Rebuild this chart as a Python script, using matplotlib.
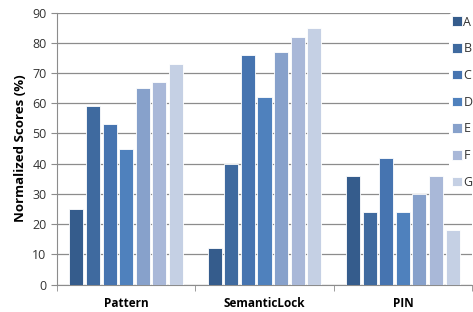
import numpy as np
import matplotlib
matplotlib.use("Agg")
import matplotlib.pyplot as plt

plt.rcParams["font.family"] = ["Open Sans", "DejaVu Sans"]

categories = ["Pattern", "SemanticLock", "PIN"]
series = ["A", "B", "C", "D", "E", "F", "G"]
A = [25, 12, 36]
B = [59, 40, 24]
C = [53, 76, 42]
D = [45, 62, 24]
E = [65, 77, 30]
F = [67, 82, 36]
G = [73, 85, 18]
values = [A, B, C, D, E, F, G]
colors = ["#355C8C", "#3F6A9F", "#4674B0", "#4F81BD", "#87A1CB", "#A9B8D8", "#C5D0E4"]

fig = plt.figure(figsize=(4.73, 3.12), dpi=100)
ax = fig.add_axes([57 / 473, 27.5 / 312, 415 / 473, 272 / 312])

x = np.arange(len(categories))
slot = 0.12
width = 0.102
for i, (name, vals) in enumerate(zip(series, values)):
    offs = (i - 3) * slot
    ax.bar(x + offs, vals, width, color=colors[i], edgecolor="white", linewidth=0.6,
           label=name, zorder=3)

grid_c = "#8C8C8C"
ax.set_xlim(-0.5, 2.5)
ax.set_ylim(0, 90)
ax.set_yticks(range(0, 91, 10))
ax.yaxis.grid(True, color=grid_c, linewidth=0.9, zorder=0)
ax.set_xticks(x)
ax.set_xticklabels(categories, fontweight="bold", fontsize=8.5)
ax.set_xticks([-0.5, 0.5, 1.5, 2.5], minor=True)
ax.tick_params(axis="x", which="major", length=0, pad=9)
ax.tick_params(axis="x", which="minor", length=4, color=grid_c, direction="out")
ax.tick_params(axis="y", length=4, color=grid_c, labelsize=9, labelcolor="#333333")
for s in ["top", "right"]:
    ax.spines[s].set_visible(False)
for s in ["left", "bottom"]:
    ax.spines[s].set_color(grid_c)
ax.set_ylabel("Normalized Scores (%)", fontweight="bold", fontsize=9.5, labelpad=4)

leg = fig.legend(loc="upper left", bbox_to_anchor=(449 / 473, 1 - 13 / 312),
                 frameon=True, fontsize=9, handlelength=0.8, handleheight=0.8,
                 handletextpad=0.15, labelspacing=1.1, borderpad=0.2, borderaxespad=0)
leg.get_frame().set_facecolor("white")
leg.get_frame().set_edgecolor("none")
leg.get_frame().set_alpha(1)
for t in leg.get_texts():
    t.set_color("#333333")

fig.savefig("out.png", dpi=100)
